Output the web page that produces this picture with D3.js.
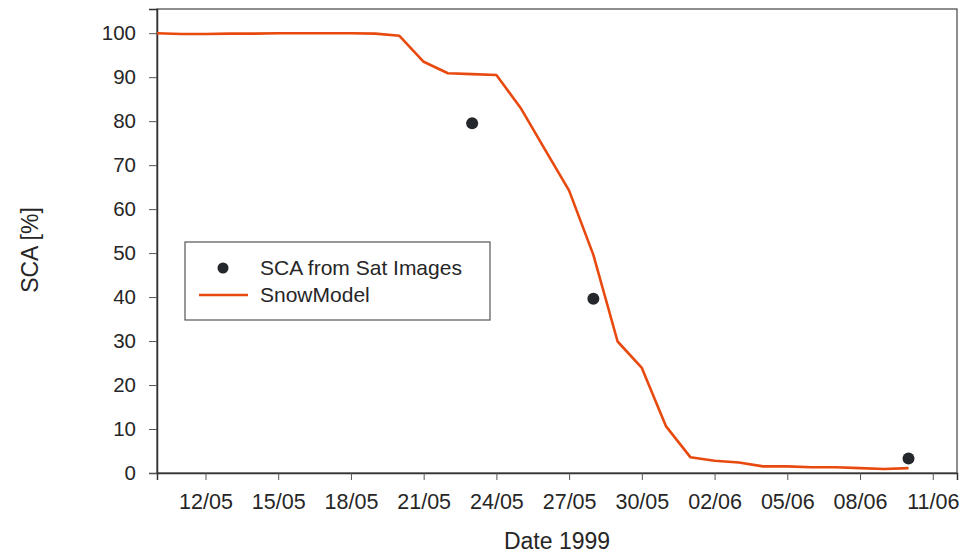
<!DOCTYPE html>
<html>
<head>
<meta charset="utf-8">
<script src="https://cdn.jsdelivr.net/npm/d3@7"></script>
<style>
  body { margin: 0; background: #fff; }
  text { font-family: "Liberation Sans", Arial, sans-serif; fill: #262626; }
</style>
</head>
<body>
<script>
const modelDates = ['1999-05-10', '1999-05-11', '1999-05-12', '1999-05-13', '1999-05-14', '1999-05-15',
  '1999-05-16', '1999-05-17', '1999-05-18', '1999-05-19', '1999-05-20', '1999-05-21', '1999-05-22',
  '1999-05-23', '1999-05-24', '1999-05-25', '1999-05-26', '1999-05-27', '1999-05-28', '1999-05-29',
  '1999-05-30', '1999-05-31', '1999-06-01', '1999-06-02', '1999-06-03', '1999-06-04', '1999-06-05',
  '1999-06-06', '1999-06-07', '1999-06-08', '1999-06-09', '1999-06-10']
const modelValues = [100, 99.8, 99.8, 99.9, 99.9, 100, 100, 100, 100, 99.9, 99.4, 93.5, 90.9,
  90.7, 90.5, 83, 73.6, 64.2, 49.6, 29.9, 23.9, 10.6, 3.6, 2.8, 2.4, 1.5, 1.5,
  1.3, 1.3, 1.1, 0.9, 1.1]
const satDates = ['1999-05-23', '1999-05-28', '1999-06-10']
const satValues = [79.5, 39.6, 3.3]
const xTickDates = ['1999-05-12', '1999-05-15', '1999-05-18', '1999-05-21', '1999-05-24', '1999-05-27',
  '1999-05-30', '1999-06-02', '1999-06-05', '1999-06-08', '1999-06-11']
const yTicks = [0, 10, 20, 30, 40, 50, 60, 70, 80, 90, 100]

const parse = d3.utcParse('%Y-%m-%d')
const margin = { top: 9, right: 3, bottom: 81, left: 157 }
const width = 960 - margin.left - margin.right
const height = 554 - margin.top - margin.bottom

const svg = d3.select('body').append('svg')
  .attr('width', 960)
  .attr('height', 554)
const g = svg.append('g')
  .attr('transform', `translate(${margin.left}, ${margin.top})`)

const xScale = d3.scaleUtc()
  .domain([parse('1999-05-10'), parse('1999-06-12')])
  .range([0, width])
const yScale = d3.scaleLinear().domain([0, 105.5]).range([height, 0])

// frame
g.append('rect')
  .attr('width', width)
  .attr('height', height)
  .attr('fill', 'none')
  .attr('stroke', '#444')
  .attr('stroke-width', 1.2)

const xAxis = g.append('g')
  .attr('transform', `translate(0, ${height})`)
  .call(d3.axisBottom(xScale)
    .tickValues(xTickDates.map(parse))
    .tickFormat(d3.utcFormat('%d/%m'))
    .tickSize(7)
    .tickPadding(14))
xAxis.select('.domain').attr('stroke', '#333').attr('stroke-width', 1.5)
xAxis.selectAll('line').attr('stroke', '#555')
xAxis.selectAll('text').style('font-size', '21.5px').attr('fill', '#262626')

const yAxis = g.append('g')
  .call(d3.axisLeft(yScale)
    .tickValues(yTicks)
    .tickSize(8)
    .tickPadding(13))
yAxis.select('.domain').attr('stroke', '#333').attr('stroke-width', 1.5)
yAxis.selectAll('line').attr('stroke', '#555')
yAxis.selectAll('text').style('font-size', '20.5px').attr('fill', '#262626')

// axis titles
svg.append('text')
  .attr('transform', 'translate(38, 250) rotate(-90)')
  .attr('text-anchor', 'middle')
  .style('font-size', '23px')
  .text('SCA [%]')

svg.append('text')
  .attr('x', 557)
  .attr('y', 549)
  .attr('text-anchor', 'middle')
  .style('font-size', '23px')
  .text('Date 1999')

// model line
const model = modelDates.map((d, i) => ({ date: parse(d), value: modelValues[i] }))
const line = d3.line()
  .x(d => xScale(d.date))
  .y(d => yScale(d.value))

g.append('path')
  .datum(model)
  .attr('fill', 'none')
  .attr('stroke', '#E8490F')
  .attr('stroke-width', 2.6)
  .attr('stroke-linejoin', 'round')
  .attr('d', line)

// satellite points
const sat = satDates.map((d, i) => ({ date: parse(d), value: satValues[i] }))
g.selectAll('.sat')
  .data(sat)
  .enter().append('circle')
  .attr('class', 'sat')
  .attr('cx', d => xScale(d.date))
  .attr('cy', d => yScale(d.value))
  .attr('r', 6)
  .attr('fill', '#24272b')

// legend
const legend = svg.append('g').attr('transform', 'translate(185, 242)')
legend.append('rect')
  .attr('width', 305)
  .attr('height', 78)
  .attr('fill', '#fff')
  .attr('stroke', '#555')
  .attr('stroke-width', 1.2)
legend.append('circle')
  .attr('cx', 38)
  .attr('cy', 26)
  .attr('r', 5.5)
  .attr('fill', '#24272b')
legend.append('line')
  .attr('x1', 14)
  .attr('x2', 63)
  .attr('y1', 53)
  .attr('y2', 53)
  .attr('stroke', '#E8490F')
  .attr('stroke-width', 2.6)
legend.append('text')
  .attr('x', 75)
  .attr('y', 33)
  .style('font-size', '21px')
  .text('SCA from Sat Images')
legend.append('text')
  .attr('x', 75)
  .attr('y', 60)
  .style('font-size', '21px')
  .text('SnowModel')
</script>
</body>
</html>
